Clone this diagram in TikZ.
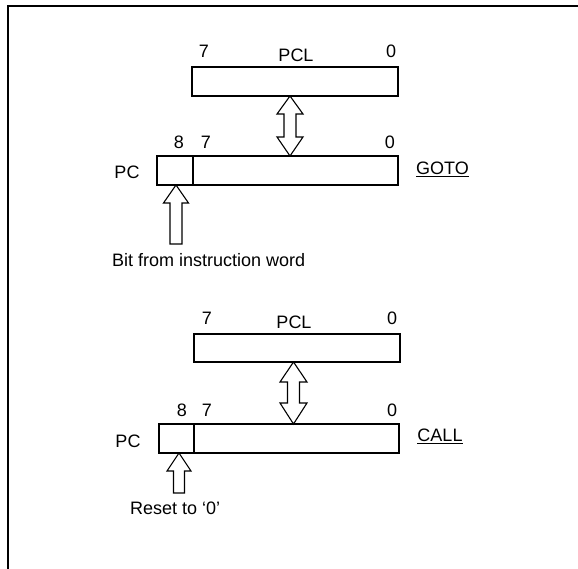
\documentclass[tikz,border=0pt]{standalone}
\usepackage{fontspec}
\setmainfont{Liberation Sans}
\usetikzlibrary{calc}
\begin{document}
\begin{tikzpicture}[x=1pt,y=-1pt,
  reg/.style={draw,line width=1.2pt,rectangle,inner sep=0pt,outer sep=0pt},
  lbl/.style={font=\fontsize{18}{20}\selectfont,inner sep=0pt},
  arr/.style={draw,line width=1.1pt,fill=white,line join=miter}]
\useasboundingbox (0,0) rectangle (578,569);
\fill[white] (0,0) rectangle (578,569);
% frame
\draw[line width=2pt] (8,569) -- (8,6) -- (578,6);

% ---------- GOTO group ----------
\node[reg,minimum width=206pt,minimum height=29pt] (pcla) at (295,81.5) {};
\node[reg,minimum width=36pt,minimum height=29pt] (bita) at (175,170.5) {};
\node[reg,minimum width=205pt,minimum height=29pt] (lowa) at (295.5,170.5) {};
\node[lbl] (pcl7a) at (204,51) {7};
\node[lbl] (pclna) at (296,55) {PCL};
\node[lbl] (pcl0a) at (391,51) {0};
\node[lbl] (b8a) at (179,142) {8};
\node[lbl] (b7a) at (206,142) {7};
\node[lbl] (b0a) at (390,142) {0};
\node[lbl] (pca) at (127,172) {PC};
\node[lbl] (gotoa) at (442.5,169) {\underline{GOTO}};
\node[lbl,anchor=base west] (bitw) at (112,267) {Bit from instruction word};
% double arrow
\coordinate (ta) at (290,96);
\coordinate (ba) at (290,156);
\draw[arr] (ta) -- ++(13,18) -- ++(-7,0) -- ($(ba)+(6,-19)$) -- ++(7,0) -- (ba)
  -- ++(-13,-19) -- ++(7,0) -- ($(ta)+(-6,18)$) -- ++(-7,0) -- cycle;
% small arrow
\coordinate (sa) at (176,185);
\draw[arr] (sa) -- ++(12.5,18) -- ++(-6.5,0) -- ++(0,41) -- ++(-12,0) -- ++(0,-41) -- ++(-6.5,0) -- cycle;

% ---------- CALL group ----------
\node[reg,minimum width=206pt,minimum height=28pt] (pclb) at (297,348) {};
\node[reg,minimum width=35pt,minimum height=29pt] (bitb) at (176.5,438.5) {};
\node[reg,minimum width=205pt,minimum height=29pt] (lowb) at (296.5,438.5) {};
\node[lbl] (pcl7b) at (207,318.5) {7};
\node[lbl] (pclnb) at (294,322) {PCL};
\node[lbl] (pcl0b) at (392,318.5) {0};
\node[lbl] (b8b) at (182,410) {8};
\node[lbl] (b7b) at (207,410) {7};
\node[lbl] (b0b) at (392,410) {0};
\node[lbl] (pcb) at (128,441) {PC};
\node[lbl] (callb) at (440,436) {\underline{CALL}};
\node[lbl,anchor=base west] (rst) at (130,514) {Reset to ‘0’};
% double arrow
\coordinate (tb) at (293.5,362);
\coordinate (bb) at (293.5,424);
\draw[arr] (tb) -- ++(13.5,20) -- ++(-7.5,0) -- ($(bb)+(6,-21)$) -- ++(7.5,0) -- (bb)
  -- ++(-13.5,-21) -- ++(7.5,0) -- ($(tb)+(-6,20)$) -- ++(-7.5,0) -- cycle;
% small arrow
\coordinate (sb) at (179,453);
\draw[arr] (sb) -- ++(12,18) -- ++(-6.5,0) -- ++(0,22) -- ++(-11,0) -- ++(0,-22) -- ++(-6.5,0) -- cycle;
\end{tikzpicture}
\end{document}
